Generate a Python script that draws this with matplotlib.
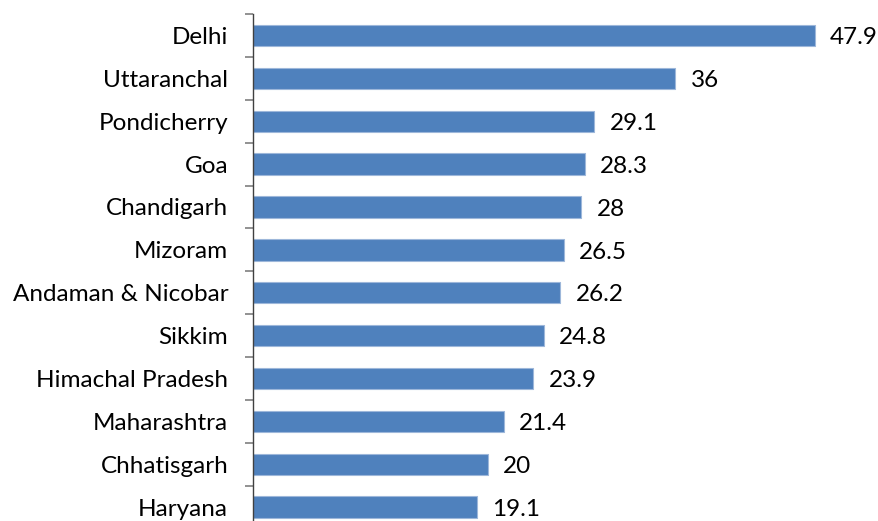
import numpy as np
import matplotlib.pyplot as plt
from matplotlib.ticker import FixedLocator, NullLocator

states = ["Delhi", "Uttaranchal", "Pondicherry", "Goa", "Chandigarh", "Mizoram",
          "Andaman & Nicobar", "Sikkim", "Himachal Pradesh", "Maharashtra",
          "Chhatisgarh", "Haryana"]
values = [47.9, 36, 29.1, 28.3, 28, 26.5, 26.2, 24.8, 23.9, 21.4, 20, 19.1]

plt.rcParams['font.family'] = ['Lato', 'DejaVu Sans']

fig = plt.figure(figsize=(8.79, 5.21), dpi=100)
ax = fig.add_axes([0.288, -0.0146, 0.667, 0.9877])

y = np.arange(len(states))
ax.barh(y, values, height=0.5, color='#4F81BD', edgecolor='#9DB7DA', linewidth=0.8)

# value labels just past the end of each bar
for yi, v in zip(y, values):
    ax.text(v + 1.3, yi + 0.05, f"{v:g}", va='center', ha='left', fontsize=17.5, color='black')

ax.set_xlim(0, 50)
ax.set_ylim(len(states) - 0.5, -0.5)

ax.set_yticks(y)
ax.set_yticklabels(states, fontsize=17.5)
ax.tick_params(axis='y', which='major', length=0, pad=18)
ax.yaxis.set_minor_locator(FixedLocator(np.arange(-0.5, len(states), 1)))
ax.tick_params(axis='y', which='minor', length=6, width=1.2, color='#7f7f7f', direction='out')

ax.xaxis.set_major_locator(NullLocator())
for side in ['top', 'right', 'bottom']:
    ax.spines[side].set_visible(False)
ax.spines['left'].set_color('#404040')
ax.spines['left'].set_linewidth(1.0)

fig.savefig('out.png', dpi=100)
